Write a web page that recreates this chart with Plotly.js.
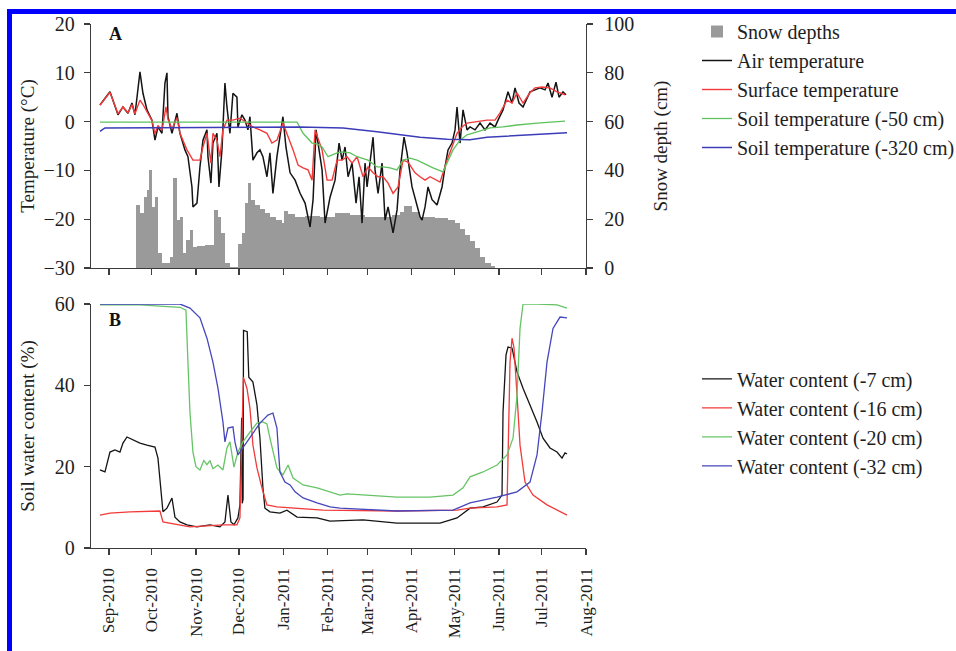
<!DOCTYPE html>
<html><head><meta charset="utf-8">
<script src="https://cdn.plot.ly/plotly-3.0.1.min.js"></script>
<style>
html,body{margin:0;padding:0;background:#fff;}
#chart{width:956px;height:651px;}
#frame{position:absolute;left:7px;top:9px;right:0;bottom:0;border-top:5px solid #0000ff;border-left:5px solid #0000ff;pointer-events:none;}
</style></head><body>
<div id="chart"></div><div id="frame"></div>
<script>
// ---- data (days since 2010-09-01) ----
const startDate = '2010-09-01';
const monthTickFormat = '%b-%Y';

const airDays = [-6.3,0.7,6.3,9.8,13.3,16.1,18.2,21.7,23.8,26.6,30.1,32.2,34.3,37.1,39.2,40.6,41.3,44.1,47.6,49.7,53.2,55.3,58.1,58.8,61.6,63.7,65.8,68.6,69.3,71.4,72.8,75.6,77.0,79.1,81.2,82.6,84.7,86.8,89.6,90.3,93.1,95.2,97.3,98.7,100.8,103.6,105.7,107.8,110.6,112.7,114.8,117.6,121.8,123.9,126.8,130.3,133.8,137.3,140.8,142.9,145.0,149.2,151.3,154.8,158.3,161.1,163.2,165.3,167.4,170.2,173.0,175.1,177.2,179.3,180.7,184.9,186.3,188.4,191.2,193.3,195.4,198.9,201.7,203.8,206.6,208.7,212.2,215.7,217.8,219.2,221.3,223.4,226.2,229.7,233.2,235.3,237.4,240.2,242.3,243.7,245.8,247.9,250.7,252.8,256.3,259.8,263.3,266.8,270.3,272.4,275.9,279.4,282.2,284.3,287.1,289.9,292.7,294.8,298.3,301.8,305.3,307.4,310.2,313.0,315.1,317.9,320.0];
const airTemp = [3.4,6.1,1.4,3.0,1.7,3.8,1.4,10.2,5.8,2.4,0.3,-3.8,-1.1,-2.4,7.9,10.0,1.0,-2.4,1.7,-2.4,-5.8,-7.2,-13.4,-17.5,-16.7,-9.3,-3.8,-1.7,-7.2,-12.6,-4.4,-2.4,-13.4,-5.8,7.9,3.0,-2.4,5.8,5.0,-1.1,1.4,0.3,-1.7,1.0,-7.9,-6.4,-5.8,-7.2,-11.3,-6.4,-14.7,-7.2,1.0,-5.2,-10.5,-12.0,-14.7,-16.7,-21.6,-16.0,-1.7,-9.9,-20.8,-15.5,-12.0,-4.4,-7.9,-5.2,-11.3,-8.5,-16.7,-11.3,-20.8,-8.5,-13.4,-3.2,-9.9,-14.7,-8.5,-20.2,-17.5,-22.8,-18.1,-9.9,-3.2,-6.4,-13.4,-17.5,-19.5,-20.2,-17.5,-13.4,-16.0,-17.1,-13.4,-9.3,-5.8,-4.4,-1.7,3.0,-4.4,2.4,-1.7,-1.1,-1.7,-0.3,-1.7,-0.3,-1.1,0.3,2.4,6.1,3.8,6.9,3.8,3.0,5.0,6.1,6.5,6.9,6.5,7.9,5.0,8.1,5.0,6.1,5.5];

const surfDays = [-6.3,0.7,6.3,9.8,13.3,16.1,18.2,21.7,23.8,26.6,30.1,32.2,34.3,37.1,39.9,41.3,44.1,47.6,49.7,54.6,58.8,63.7,65.8,68.6,71.4,72.8,75.6,77.7,79.8,82.6,86.8,91.7,97.3,100.8,105.7,110.6,114.1,117.6,121.8,124.6,128.9,132.4,135.9,139.4,142.2,144.3,149.2,152.7,156.2,159.7,163.2,166.7,170.2,173.7,177.9,181.4,184.9,188.4,191.9,195.4,198.9,202.4,205.9,209.4,214.3,217.8,221.3,224.8,231.8,233.9,236.7,240.2,243.7,247.2,250.7,257.7,264.7,270.3,273.8,278.7,282.2,285.7,289.9,294.8,298.3,303.2,308.8,313.7,319.3];
const surfTemp = [3.4,6.0,1.6,3.0,1.8,3.5,1.6,4.4,3.5,2.0,0.2,-2.5,-0.8,-1.8,3.0,0.5,-1.5,0.8,-2.4,-5.8,-7.9,-7.9,-5.2,-2.4,-8.5,-2.4,-3.8,-7.2,-1.7,0.3,0.3,0.7,-0.3,-1.1,-1.7,-2.4,-4.4,-3.8,-0.3,-2.4,-5.8,-8.9,-9.5,-9.9,-12.0,-1.7,-5.8,-12.0,-12.0,-7.9,-7.9,-7.2,-8.5,-7.2,-11.3,-9.3,-10.5,-11.3,-11.3,-12.6,-14.7,-13.4,-7.9,-8.3,-10.5,-11.3,-12.0,-11.3,-12.4,-10.5,-7.9,-5.2,-2.4,-1.1,-0.3,0.0,0.3,0.3,1.8,4.4,3.8,5.9,3.8,5.9,6.9,7.1,6.9,6.1,5.5];

const soil50Days = [-6.3,131.7,135.9,142.2,145.7,149.2,153.4,159.7,163.2,168.8,173.7,177.9,181.4,187.7,191.9,196.8,201.7,205.9,210.8,215.7,219.9,226.9,233.9,237.4,240.9,245.8,250.7,257.7,266.8,275.9,285.7,299.7,310.9,319.3];
const soil50Temp = [-0.1,-0.1,-2.4,-4.4,-4.6,-5.2,-7.2,-6.4,-6.2,-6.4,-7.2,-7.5,-7.9,-9.3,-9.3,-9.5,-9.9,-7.9,-7.5,-7.9,-8.5,-9.5,-10.3,-7.9,-5.8,-3.8,-2.7,-2.1,-1.3,-1.1,-0.7,-0.3,0.0,0.1];

const soil320Days = [-6.3,-2.8,133.8,163.9,187.7,205.9,217.8,236.7,252.8,264.7,296.9,320.7];
const soil320Temp = [-2.0,-1.3,-1.1,-1.3,-2.1,-2.7,-3.2,-3.6,-3.7,-3.2,-2.6,-2.3];

const snowDays = [18.9,21.7,24.5,26.6,28.0,30.1,32.2,34.3,37.1,42.7,44.8,47.6,49.7,51.8,53.9,56.7,58.8,61.6,67.2,73.5,76.3,78.4,81.2,84.7,90.3,93.1,95.2,97.3,99.4,102.2,105.7,109.2,112.7,116.9,121.1,122.5,125.4,130.3,137.3,147.8,158.3,168.8,179.3,189.8,198.2,203.8,206.6,212.2,217.8,228.3,237.4,242.3,245.8,249.3,252.8,256.3,259.8,263.3,267.5,270.3];
const snowDepth = [25.8,22.5,29,32,40,25,29,6,2,4.5,37,19.7,21,6,11.5,15.6,8.6,9,9.5,23.8,21,14.3,2,0.5,10,14.3,26.6,35,28,26,24,22.5,21,19.7,18.4,23.5,22,21,21.5,21,22.5,21.7,21,21,21.7,23,25.5,23,21,20.5,19.7,18.4,16,13.5,11,8,4.5,2,1,0];

const wc7Days = [-6.3,-2.8,0.7,4.2,7.7,9.8,12.6,16.8,21.7,26.6,32.2,34.3,36.4,37.8,40.6,44.1,46.2,49.7,54.6,61.6,70.7,77.7,81.2,83.3,85.4,87.5,90.3,91.7,92.9,93.3,93.9,94.2,96.8,97.9,100.8,103.6,105.7,107.8,109.2,112.7,119.7,124.6,131.7,145.7,154.8,177.9,201.7,231.8,243.7,247.9,252.8,261.9,271.7,275.2,275.9,278.0,279.4,282.2,285.7,289.9,294.8,299.7,303.9,308.8,313.7,317.2,319.3,320.7];
const wc7 = [19.2,18.7,23.6,24.1,23.6,25.8,27.3,26.6,25.8,25.3,24.8,22.1,13.0,8.9,9.8,12.3,7.6,6.4,5.7,5.2,5.7,5.2,6.4,13.0,6.4,5.7,7.4,10.6,32.0,11.0,12.0,53.5,53.2,42.0,40.8,35.2,27.0,14.8,9.8,8.9,8.6,9.3,7.6,7.4,6.6,6.9,6.1,6.1,7.4,8.6,9.8,10.1,11.3,13.0,33.4,47.5,49.4,49.2,43.3,39.3,35.2,31.0,27.0,24.6,23.6,22.1,23.4,23.1];

const wc16Days = [-6.3,0.7,14.7,35.7,37.8,47.6,56.7,79.8,89.6,91.7,93.1,94.1,96.6,98.7,100.8,103.6,107.1,110.6,117.6,131.7,149.9,201.7,243.7,252.8,271.7,278.7,280.8,282.2,283.6,285.7,287.8,291.3,296.9,306.7,320.7];
const wc16 = [8.1,8.6,8.9,9.1,6.4,5.7,5.2,5.7,5.7,7.4,25.3,42.0,39.3,34.4,25.3,19.7,14.8,10.6,10.1,9.8,9.3,9.1,9.3,9.8,10.1,10.6,45.7,51.6,49.2,37.6,25.3,16.2,13.0,10.6,8.1];

const wc20Days = [-6.3,21.7,49.7,53.9,55.3,56.7,58.8,60.9,63.7,66.4,68.6,70.7,72.8,76.3,79.8,82.6,84.7,87.5,90.3,93.8,98.7,103.6,107.8,110.6,112.7,117.6,121.8,125.4,128.9,135.9,145.7,154.8,161.8,166.7,177.9,201.7,224.8,240.9,247.9,252.8,261.9,271.7,278.7,282.9,285.7,287.8,289.9,299.7,313.7,320.7];
const wc20 = [59.8,59.8,59.2,58.5,45.7,33.4,23.6,20.0,19.2,21.5,20.5,21.5,19.5,20.4,19.2,24.6,26.1,19.9,23.6,26.1,28.5,30.7,31.0,30.5,27.0,19.7,18.0,20.4,17.2,15.5,14.8,13.8,13.0,13.3,13.0,12.5,12.5,13.0,14.8,17.5,18.7,20.4,22.9,27.0,37.6,54.0,60.0,60.0,59.8,59.0];

const wc32Days = [-6.3,49.7,56.7,63.7,68.6,72.8,76.3,79.8,81.2,83.3,86.8,88.2,90.3,93.8,98.7,105.7,111.3,114.8,117.6,119.7,123.2,126.8,130.3,135.9,145.7,154.8,161.8,201.7,240.9,252.8,271.7,285.7,294.8,299.7,303.2,306.7,310.9,315.8,320.7];
const wc32 = [60.0,60.0,59.0,56.6,51.6,45.7,39.3,31.0,26.1,29.5,29.8,26.1,22.9,24.6,27.0,30.7,32.7,33.2,29.5,18.7,16.2,15.5,13.8,12.3,11.1,10.1,9.8,9.1,9.3,11.1,12.5,13.8,16.2,22.9,33.4,45.7,54.0,56.8,56.6];

const xRange = ['2010-08-19 10:00', '2011-08-01'];
const tempRange = [-30, 20];
const snowRange = [0, 100];
const waterRange = [0, 60];

// ---- helpers ----
const DAY = 86400000;
const T0 = Date.parse(startDate + 'T00:00:00Z');
const toDate = d => new Date(T0 + d * DAY).toISOString().slice(0, 19).replace('T', ' ');
const dates = arr => arr.map(toDate);

const FONT = 'Liberation Serif, Times New Roman, serif';
const AX = '#3c3c3c';
const TXT = '#1e1e1e';

// snow bars: each bar spans until the next sample
const snowX = dates(snowDays.slice(0, -1));
const snowW = snowDays.slice(0, -1).map((d, i) => (snowDays[i + 1] - d) * DAY);

const lineTrace = (days, vals, name, color, width, yaxis, xaxis, legend) => ({
  type: 'scatter', mode: 'lines', x: dates(days), y: vals, name,
  line: {color, width}, xaxis, yaxis, legend, hoverinfo: 'skip'
});

const data = [
  {type: 'bar', x: snowX, y: snowDepth.slice(0, -1), width: snowW, offset: 0,
   name: 'Snow depths', marker: {color: '#9a9a9a', line: {width: 0}},
   xaxis: 'x', yaxis: 'y', legend: 'legend', hoverinfo: 'skip'},
  lineTrace(airDays, airTemp, 'Air temperature', '#141414', 1.5, 'y2', 'x', 'legend'),
  lineTrace(surfDays, surfTemp, 'Surface temperature', '#f23a3a', 1.4, 'y2', 'x', 'legend'),
  lineTrace(soil50Days, soil50Temp, 'Soil temperature (-50 cm)', '#5ec25e', 1.3, 'y2', 'x', 'legend'),
  lineTrace(soil320Days, soil320Temp, 'Soil temperature (-320 cm)', '#3c3cb8', 1.5, 'y2', 'x', 'legend'),
  lineTrace(wc7Days, wc7, 'Water content (-7 cm)', '#141414', 1.3, 'y3', 'x2', 'legend2'),
  lineTrace(wc16Days, wc16, 'Water content (-16 cm)', '#f23a3a', 1.3, 'y3', 'x2', 'legend2'),
  lineTrace(wc20Days, wc20, 'Water content (-20 cm)', '#66c466', 1.3, 'y3', 'x2', 'legend2'),
  lineTrace(wc32Days, wc32, 'Water content (-32 cm)', '#4646bc', 1.3, 'y3', 'x2', 'legend2')
];

const baseAxis = {
  showline: true, linecolor: AX, linewidth: 1.3, ticks: 'outside', ticklen: 6,
  tickwidth: 1.3, tickcolor: AX, showgrid: false, zeroline: false,
  tickfont: {family: FONT, size: 20, color: TXT}
};
const dateAxis = Object.assign({}, baseAxis, {
  type: 'date', range: xRange, tick0: startDate, dtick: 'M1', tickformat: monthTickFormat
});

const legendBase = {
  xanchor: 'left', yanchor: 'top', bgcolor: 'rgba(0,0,0,0)', borderwidth: 0,
  font: {family: FONT, size: 20, color: TXT}, traceorder: 'normal'
};

const layout = {
  width: 956, height: 651,
  margin: {l: 91, r: 370, t: 24, b: 103, autoexpand: false},
  paper_bgcolor: '#ffffff', plot_bgcolor: 'rgba(0,0,0,0)',
  font: {family: FONT, size: 19, color: TXT},
  bargap: 0,
  xaxis: Object.assign({}, dateAxis, {domain: [0, 1], anchor: 'y', showticklabels: false}),
  yaxis: Object.assign({}, baseAxis, {domain: [0.5344, 1], anchor: 'x', side: 'right',
    range: snowRange, dtick: 20, ticklabelstandoff: 7,
    title: {text: 'Snow depth (cm)', font: {family: FONT, size: 19, color: TXT}, standoff: 20}}),
  yaxis2: Object.assign({}, baseAxis, {overlaying: 'y', anchor: 'x', side: 'left',
    range: tempRange, dtick: 10, ticklabelstandoff: 5,
    title: {text: 'Temperature (°C)', font: {family: FONT, size: 19, color: TXT}, standoff: 3}}),
  xaxis2: Object.assign({}, dateAxis, {domain: [0, 1], anchor: 'y3', tickangle: -90,
    ticklabelstandoff: 6, tickfont: {family: FONT, size: 17, color: TXT}}),
  yaxis3: Object.assign({}, baseAxis, {domain: [0, 0.4656], anchor: 'x2',
    range: waterRange, dtick: 20, ticklabelstandoff: 5,
    title: {text: 'Soil water content (%)', font: {family: FONT, size: 19, color: TXT}, standoff: 15}}),
  legend: Object.assign({}, legendBase, {x: 1.2242, y: 1.0229}),
  legend2: Object.assign({}, legendBase, {x: 1.2242, y: 0.3598}),
  annotations: [
    {text: '<b>A</b>', xref: 'x domain', yref: 'y domain', x: 0.0485, y: 0.959,
     xanchor: 'center', yanchor: 'middle',
     showarrow: false, font: {family: FONT, size: 18, color: '#111'}},
    {text: '<b>B</b>', xref: 'x2 domain', yref: 'y3 domain', x: 0.0485, y: 0.934,
     xanchor: 'center', yanchor: 'middle',
     showarrow: false, font: {family: FONT, size: 18, color: '#111'}}
  ]
};

Plotly.newPlot('chart', data, layout, {staticPlot: true, displayModeBar: false});
</script></body></html>
